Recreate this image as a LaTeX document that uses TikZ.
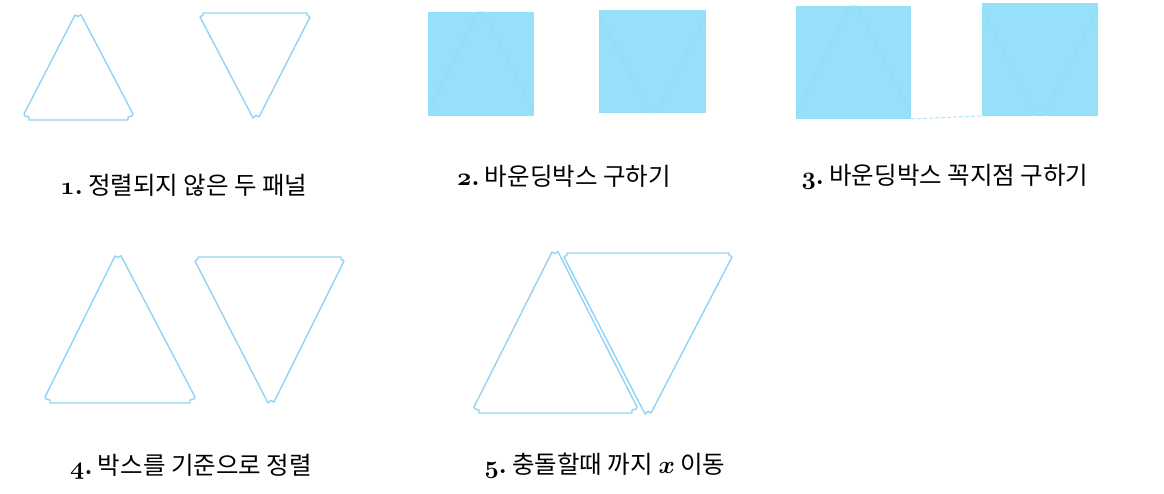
\documentclass[tikz,border=0pt]{standalone}
\usepackage{fontspec}
\newfontfamily\krfont{Noto Sans CJK KR}
\definecolor{triline}{RGB}{146,210,244}
\definecolor{boxfill}{RGB}{150,224,250}
\definecolor{boxline}{RGB}{140,218,242}
\newcommand\uptri[5]{%
  \draw[tri] ({#1-3},{#2}) -- ({#1},{#2+1.5}) -- ({#1+3},{#2-0.3}) -- ({#4},{#5-6}) -- ({#4-1},{#5-4}) -- ({#4-5},{#5-3}) -- ({#4-5},{#5}) -- ({#3+5},{#5}) -- ({#3+5},{#5-3}) -- ({#3+1},{#5-4}) -- ({#3},{#5-6}) -- cycle;}
\newcommand\downtri[5]{%
  \draw[tri] ({#3},{#5+4}) -- ({#3+3},{#5+2}) -- ({#3+3},{#5}) -- ({#4-3},{#5}) -- ({#4-3},{#5+2}) -- ({#4},{#5+4}) -- ({#1+3},{#2-1}) -- ({#1},{#2-2.5}) -- ({#1-3},{#2}) -- cycle;}
\newcommand\stepnum[1]{{\fontsize{30}{30}\selectfont\boldmath$\mathnormal{#1}.$}}
\tikzset{
  tri/.style={draw=triline, line width=1.4pt, line join=round},
  bbox/.style={fill=boxfill, draw=none},
  inner/.style={draw=boxline, line width=0.5pt},
  label/.style={font=\krfont\fontsize{24.5}{28}\selectfont, inner sep=0pt, anchor=center},
  link/.style={draw=boxfill!80!white, line width=1pt, dash pattern=on 4pt off 2pt}
}
\begin{document}
\begin{tikzpicture}[x=1pt,y=-1pt]
\useasboundingbox (0,0) rectangle (1164,494);
% panel 1
\uptri{78}{15}{24}{133}{120}
\downtri{256}{118}{200}{310}{13}
\node[label] (l1) at (184,185) {\stepnum{1} 정렬되지 않은 두 패널};
% panel 2
\fill[bbox] (428,12) rectangle (534,116);
\draw[inner] (428,112) -- (478,12) -- (484,12) -- (534,112);
\fill[bbox] (599,10) rectangle (706,113);
\draw[inner] (599,15) -- (650,113) -- (656,113) -- (706,15);
\node[label] (l2) at (564,176) {\stepnum{2} 바운딩박스 구하기};
% panel 3
\fill[bbox] (796,6) rectangle (911,119);
\draw[inner] (796,114) -- (850,6) -- (857,6) -- (911,114);
\fill[bbox] (982,3) rectangle (1098,116);
\draw[inner] (982,8) -- (1037,116) -- (1043,116) -- (1098,8);
\coordinate (c1) at (911,119);
\coordinate (c2) at (982,116);
\draw[link] (c1) -- (c2);
\node[label] (l3) at (945,177) {\stepnum{3} 바운딩박스 꼭지점 구하기};
% panel 4
\uptri{118}{256}{45}{195}{403}
\downtri{271}{403}{195}{344}{257}
\node[label] (l4) at (191,467) {\stepnum{4} 박스를 기준으로 정렬};
% panel 5
\uptri{555}{252}{474}{637}{413}
\downtri{648}{414}{564}{732}{253}
\node[label] (l5) at (605,466) {\stepnum{5} 충돌할때 까지 {\fontsize{30}{30}\selectfont\boldmath$x$} 이동};
\end{tikzpicture}
\end{document}
